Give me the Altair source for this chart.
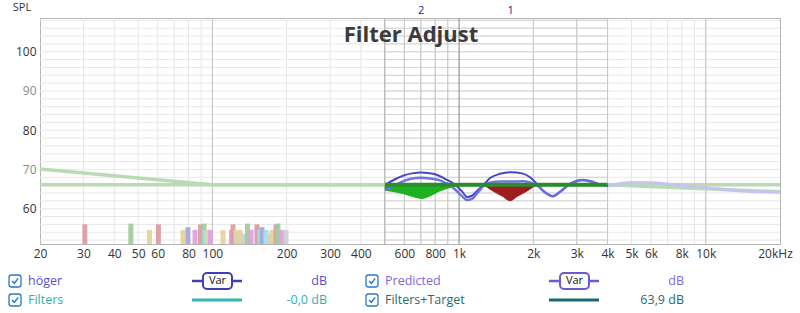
import altair as alt
import pandas as pd

# ---------------- data ----------------
x_tick_values = [20, 30, 40, 50, 60, 80, 100, 200, 300, 400, 600, 800, 1000, 2000,
                 3000, 4000, 5000, 6000, 8000, 10000, 20000]
x_tick_labels = ["20", "30", "40", "50", "60", "80", "100", "200", "300", "400", "600",
                 "800", "1k", "2k", "3k", "4k", "5k", "6k", "8k", "10k", "20kHz"]
y_tick_values = [60, 70, 80, 90, 100]
grid_freqs = [30, 40, 50, 60, 70, 80, 90, 100, 200, 300, 400, 500, 600, 700, 800, 900,
              1000, 2000, 3000, 4000, 5000, 6000, 7000, 8000, 9000, 10000]
grid_db = list(range(52, 109, 2))
box_range = [500, 4000]
major_freqs = [100, 10000]

target_flat_freq = [20, 20000]
target_flat_db = [66.1, 66.1]
target_slope_freq = [20, 100, 4000, 20000]
target_slope_db = [70.1, 66.1, 66.1, 64.3]
range_target_db = 66.1

hoger_freq = [505, 550, 598, 645, 701, 762, 799, 877, 963, 1028, 1077, 1128, 1193, 1262,
              1335, 1465, 1624, 1800, 1939, 2070, 2189, 2403, 2566, 2817, 3180, 3394, 3727, 4016]
hoger_db = [66.2, 67.5, 68.5, 69.0, 69.2, 69.0, 68.8, 67.6, 66.1, 64.4, 63.0, 63.3, 64.8, 66.2,
            67.8, 68.9, 69.3, 69.0, 68.0, 66.3, 64.6, 63.2, 64.3, 66.3, 67.3, 67.0, 66.2, 65.8]

pred_freq = [505, 550, 598, 645, 701, 762, 837, 877, 919, 963, 1028, 1077, 1128, 1193, 1262,
             1335, 1465, 1624, 1800, 1939, 2070, 2189, 2403, 2566, 2817, 3180, 3394, 3727, 4016]
pred_db = [64.7, 66.0, 67.1, 67.7, 67.9, 67.7, 67.2, 66.6, 65.9, 64.9, 63.2, 62.2, 62.5, 64.2,
           65.9, 66.6, 66.9, 66.9, 67.0, 66.7, 66.0, 64.6, 63.2, 64.3, 66.3, 67.3, 67.0, 66.2, 65.8]

outside_freq = [4016, 4932, 5944, 7166, 9480, 11426, 15116, 20000]
outside_db = [65.8, 66.6, 66.6, 66.2, 65.5, 65.0, 64.4, 64.2]

filter2_freq = [500, 598, 650, 706, 762, 821, 893, 963, 1009]
filter2_db = [64.6, 63.7, 63.0, 62.5, 63.1, 64.2, 65.0, 65.5, 65.9]
filter1_freq = [1250, 1372, 1507, 1610, 1717, 1886, 2070]
filter1_db = [66.1, 64.4, 63.0, 61.9, 63.0, 64.4, 66.1]

filter_labels = ["2", "1"]
filter_freqs = [701, 1620]

bar_freqs = [30.4, 46.7, 55.6, 60.4, 76.0, 79.6, 85.0, 89.5, 92.5, 93.4, 95.5, 98.2, 110.4,
             119.5, 121.2, 124.6, 127.0, 129.4, 134.3, 138.7, 143.4, 151.6, 155.9, 158.9,
             164.9, 171.2, 174.4, 181.1, 184.4, 191.5, 198.8]
bar_tops = [56.0, 56.2, 54.6, 56.0, 54.6, 55.3, 54.6, 56.0, 56.2, 54.6, 54.6, 54.6, 54.6,
            54.6, 56.0, 54.6, 53.6, 54.6, 53.6, 56.2, 54.6, 56.0, 54.6, 55.3,
            54.6, 53.6, 54.6, 56.0, 56.2, 54.6, 54.6]
bar_colors = ["#dc9aa0", "#9fcb9f", "#e3d49a", "#dc9aa0", "#e3d49a", "#a5a5e0", "#dea0e0",
              "#dc9aa0", "#9fcb9f", "#9ee3e3", "#e3d49a", "#dea0e0", "#e3d49a",
              "#dea0e0", "#dc9aa0", "#e3d49a", "#cfcfcf", "#e3d49a", "#cfcfcf", "#9fcb9f",
              "#dea0e0", "#dc9aa0", "#9ee3e3", "#a5a5e0",
              "#9ee3e3", "#cfcfcf", "#e3d49a", "#dc9aa0", "#9fcb9f", "#dea0e0", "#cfcfcf"]

title_text = ["Filter Adjust"]
y_title = ["SPL"]

legend_names = ["höger", "Predicted", "Filters", "Filters+Target"]
legend_text_colors = ["#5a4fc8", "#7b68dd", "#2ab3ae", "#1f6d6d"]
legend_line_colors = ["#3f3fb8", "#6a5ad8", "#2fb8b0", "#1b6b6b"]
legend_values = ["dB", "dB", "-0,0 dB", "63,9 dB"]
legend_has_var = [True, True, False, False]

# ---------------- layout ----------------
W, H = 740, 226
Y_MIN, Y_MAX = 51, 108.6
FONT = "Open Sans"

xs = alt.Scale(type="log", domain=[20, 20000], nice=False)
ys = alt.Scale(domain=[Y_MIN, Y_MAX], nice=False, zero=False)

label_expr = " : ".join(
    f"datum.value == {v} ? '{t}'" for v, t in zip(x_tick_values, x_tick_labels)
) + " : ''"

x_axis = alt.Axis(values=x_tick_values, labelExpr=label_expr, ticks=False, domain=False,
                  grid=False, labelFont=FONT, labelFontSize=12, labelColor="#333333",
                  labelPadding=4, title=None, labelOverlap=False, labelBound=False,
                  labelFlush=False,
                  labelOffset={"condition": {"test": "datum.value == 20000", "value": -5},
                               "value": 0})
y_axis = alt.Axis(values=y_tick_values, ticks=False, domain=False, grid=False,
                  labelFont=FONT, labelFontSize=12, labelPadding=4, title=None,
                  labelColor={"condition": {"test": "datum.value == 70 || datum.value == 90",
                                            "value": "#8a8a8a"}, "value": "#333333"})


def X(field="f"):
    return alt.X(f"{field}:Q", scale=xs, axis=x_axis, title=None)


def Y(field="db"):
    return alt.Y(f"{field}:Q", scale=ys, axis=y_axis, title=None)


# grid
df_gv = pd.DataFrame({"f": grid_freqs})
df_gh = pd.DataFrame({"db": grid_db, "f0": box_range[0], "f1": box_range[1]})
grid_v = alt.Chart(df_gv).mark_rule(color="#e5e5e5", strokeWidth=1).encode(x=X())
grid_h = alt.Chart(df_gh).mark_rule(color="#e8e8e8", strokeWidth=1).encode(y=Y("db"))
box_h = alt.Chart(df_gh).mark_rule(color="#d3d3d3", strokeWidth=1).encode(
    y=Y("db"), x=X("f0"), x2="f1:Q")
df_bv = pd.DataFrame({"f": [f for f in grid_freqs if box_range[0] < f <= box_range[1] and f != 1000]})
box_v = alt.Chart(df_bv).mark_rule(color="#c6c6c6", strokeWidth=1).encode(x=X())
major_v = alt.Chart(pd.DataFrame({"f": major_freqs})).mark_rule(color="#c4c4c4").encode(x=X())
one_k = alt.Chart(pd.DataFrame({"f": [1000]})).mark_rule(color="#8c8c8c").encode(x=X())
box_edge = alt.Chart(pd.DataFrame({"f": [box_range[0]]})).mark_rule(color="#aaaaaa").encode(x=X())

# bars
df_bars = pd.DataFrame({"f": bar_freqs, "top": bar_tops, "c": bar_colors, "base": Y_MIN})
bars = alt.Chart(df_bars).mark_rule(strokeWidth=5, opacity=0.92).encode(
    x=X(), y=Y("base"), y2="top:Q",
    color=alt.Color("c:N", scale=None))

# target curves
tgt_flat = alt.Chart(pd.DataFrame({"f": target_flat_freq, "db": target_flat_db})).mark_line(
    color="#b9dab4", strokeWidth=3.5).encode(x=X(), y=Y())
tgt_slope = alt.Chart(pd.DataFrame({"f": target_slope_freq, "db": target_slope_db})).mark_line(
    color="#b9dab4", strokeWidth=3.5).encode(x=X(), y=Y())

# outside-range measurement (faded)
outside = alt.Chart(pd.DataFrame({"f": outside_freq, "db": outside_db})).mark_line(
    color="#c4c4f0", strokeWidth=3, interpolate="monotone").encode(x=X(), y=Y())

# filter fills
fill2 = alt.Chart(pd.DataFrame({"f": filter2_freq, "db": filter2_db, "t": range_target_db})).mark_area(
    color="#1eb21e", interpolate="monotone", opacity=1).encode(x=X(), y=Y(), y2="t:Q")
fill1 = alt.Chart(pd.DataFrame({"f": filter1_freq, "db": filter1_db, "t": range_target_db})).mark_area(
    color="#9e1e1e", interpolate="monotone", opacity=1).encode(x=X(), y=Y(), y2="t:Q")

hoger = alt.Chart(pd.DataFrame({"f": hoger_freq, "db": hoger_db})).mark_line(
    color="#4646c4", strokeWidth=2, interpolate="monotone").encode(x=X(), y=Y())
pred = alt.Chart(pd.DataFrame({"f": pred_freq, "db": pred_db})).mark_line(
    color="#6c6ce4", strokeWidth=2.5, interpolate="monotone", opacity=0.95).encode(x=X(), y=Y())

range_tgt = alt.Chart(pd.DataFrame({"f": box_range, "db": [range_target_db] * 2})).mark_line(
    color="#2c8c2c", strokeWidth=4).encode(x=X(), y=Y())

# filter numbers on top
flabels = alt.Chart(pd.DataFrame({"f": filter_freqs, "t": filter_labels})).mark_text(
    font=FONT, fontSize=11, color="#1c1c8c", baseline="middle").encode(
    x=X(), y=alt.value(-7), text="t:N")

# title and y title
title = alt.Chart(pd.DataFrame({"t": title_text})).mark_text(
    font=FONT, fontSize=22, fontWeight="bold", color="#3b3b3b", baseline="middle").encode(
    x=alt.value(371), y=alt.value(17), text="t:N")
ytitle = alt.Chart(pd.DataFrame({"t": y_title})).mark_text(
    font=FONT, fontSize=11, color="#333333", baseline="middle").encode(
    x=alt.value(-18), y=alt.value(-10), text="t:N")

# legend (pixel-positioned decorations, one small group per entry)
rows = [0, 0, 1, 1]
cols = [0, 1, 0, 1]
row_y = [263, 282]
col_dx = 357
legend_layers = []
for i, name in enumerate(legend_names):
    py = row_y[rows[i]]
    dx = cols[i] * col_dx
    d = pd.DataFrame({"name": [name], "val": [legend_values[i]], "v": ["Var"]})
    base = alt.Chart(d)
    legend_layers.append(base.mark_rect(cornerRadius=2.5, fill="white", stroke="#2a78c8",
                                        strokeWidth=1.3).encode(
        x=alt.value(-31 + dx), x2=alt.value(-19 + dx), y=alt.value(py - 6), y2=alt.value(py + 6)))
    legend_layers.append(base.mark_point(shape="M-0.55,0 L-0.12,0.45 L0.6,-0.5", filled=False,
                                         size=110, stroke="#2a78c8", strokeWidth=1.5,
                                         opacity=1).encode(x=alt.value(-25 + dx), y=alt.value(py)))
    legend_layers.append(base.mark_text(font=FONT, fontSize=12.5, align="left", baseline="middle",
                                        color=legend_text_colors[i]).encode(
        x=alt.value(-12 + dx), y=alt.value(py), text="name:N"))
    legend_layers.append(base.mark_rule(color=legend_line_colors[i],
                                        strokeWidth=2.5 if legend_has_var[i] else 3).encode(
        x=alt.value(152 + dx), x2=alt.value(202 + dx), y=alt.value(py)))
    if legend_has_var[i]:
        legend_layers.append(base.mark_rect(cornerRadius=4, fill="white", strokeWidth=2,
                                            stroke=legend_line_colors[i]).encode(
            x=alt.value(163 + dx), x2=alt.value(192 + dx), y=alt.value(py - 8), y2=alt.value(py + 8)))
        legend_layers.append(base.mark_text(font=FONT, fontSize=11, color="#111111",
                                            baseline="middle").encode(
            x=alt.value(177.5 + dx), y=alt.value(py), text="v:N"))
    legend_layers.append(base.mark_text(font=FONT, fontSize=12.5, align="right", baseline="middle",
                                        color=legend_text_colors[i]).encode(
        x=alt.value(287 + dx), y=alt.value(py), text="val:N"))

chart = alt.layer(
    grid_v, grid_h, box_h, box_v, major_v, one_k, box_edge,
    bars, tgt_flat, tgt_slope, outside, fill2, fill1, hoger, pred, range_tgt,
    flabels, title, ytitle, *legend_layers,
).properties(
    width=W, height=H,
    autosize=alt.AutoSizeParams(type="none"),
    padding={"left": 40, "top": 18, "right": 20, "bottom": 69},
    background="white",
).configure_view(stroke="#b4b4b4", strokeWidth=1)

chart.save("out.html", embed_options={"renderer": "svg", "actions": False})
